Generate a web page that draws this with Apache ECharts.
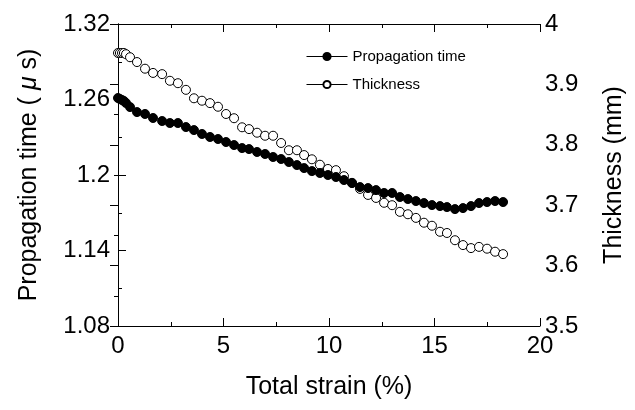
<!DOCTYPE html>
<html>
<head>
<meta charset="utf-8">
<script src="https://cdn.jsdelivr.net/npm/echarts@6/dist/echarts.min.js"></script>
<style>
  html, body { margin: 0; padding: 0; background: #fff; }
  #chart { width: 635px; height: 410px; }
</style>
</head>
<body>
<div id="chart"></div>
<script>
// total strain (%) of each measurement
const strain = [0, 0.09, 0.19, 0.28, 0.38, 0.57, 0.90, 1.28, 1.66, 2.09, 2.46, 2.84, 3.22, 3.60, 3.98,
  4.36, 4.74, 5.12, 5.50, 5.88, 6.21, 6.59, 6.97, 7.35, 7.73, 8.10, 8.48, 8.82, 9.19, 9.57, 9.95,
  10.33, 10.71, 11.09, 11.47, 11.85, 12.23, 12.61, 12.99, 13.36, 13.74, 14.12, 14.50, 14.88, 15.26,
  15.59, 15.97, 16.35, 16.73, 17.11, 17.49, 17.87, 18.25];

// propagation time (μs), left axis
const propTime = [1.2612, 1.2604, 1.2596, 1.2588, 1.2572, 1.2540, 1.2500, 1.2485, 1.2453, 1.2429,
  1.2413, 1.2413, 1.2381, 1.2357, 1.2326, 1.2302, 1.2286, 1.2262, 1.2238, 1.2214, 1.2206, 1.2183,
  1.2167, 1.2143, 1.2127, 1.2103, 1.2079, 1.2055, 1.2031, 1.2016, 1.2000, 1.1984, 1.1960, 1.1936,
  1.1904, 1.1896, 1.1880, 1.1857, 1.1857, 1.1825, 1.1809, 1.1793, 1.1777, 1.1761, 1.1753, 1.1745,
  1.1729, 1.1737, 1.1753, 1.1777, 1.1785, 1.1793, 1.1785];

// thickness (mm), right axis
const thickness = [3.952, 3.952, 3.952, 3.952, 3.950, 3.945, 3.937, 3.926, 3.919, 3.917, 3.906,
  3.902, 3.891, 3.877, 3.873, 3.869, 3.863, 3.851, 3.844, 3.829, 3.826, 3.820, 3.815, 3.815, 3.803,
  3.791, 3.791, 3.783, 3.776, 3.767, 3.760, 3.758, 3.748, 3.737, 3.727, 3.717, 3.712, 3.704, 3.700,
  3.689, 3.685, 3.679, 3.671, 3.666, 3.656, 3.654, 3.642, 3.634, 3.629, 3.631, 3.628, 3.623, 3.619];

const font = "'Liberation Sans', Arial, sans-serif";
const black = "#000";

const pair = (xs, ys) => xs.map((x, i) => [x, ys[i]]);

const chart = echarts.init(document.getElementById("chart"));

const lineAx = { show: true, lineStyle: { color: black, width: 1 } };
const tickAx = { show: true, inside: true, length: 8, lineStyle: { color: black, width: 1 } };
const minorAx = { show: true, splitNumber: 2, length: 4, lineStyle: { color: black, width: 1 } };
const tickFont = { fontFamily: font, fontSize: 24, color: black };
const nameFont = {
  fontFamily: font, fontSize: 25, color: black,
  rich: { i: { fontFamily: font, fontSize: 25, fontStyle: "italic", color: black } }
};

chart.setOption({
  animation: false,
  textStyle: { fontFamily: font, color: black },
  grid: { left: 118, right: 95, top: 24, bottom: 84, outerBoundsMode: "none" },
  legend: {
    orient: "vertical",
    left: 301,
    top: 44,
    itemWidth: 41,
    itemHeight: 9,
    itemGap: 13,
    textStyle: { fontFamily: font, fontSize: 15, color: black },
    lineStyle: { color: black, width: 1, opacity: 1 },
    data: ["Propagation time", "Thickness"]
  },
  xAxis: [
    {
      type: "value",
      min: 0,
      max: 20,
      interval: 5,
      name: "Total strain (%)",
      nameLocation: "middle",
      nameGap: 49,
      nameTextStyle: nameFont,
      axisLine: lineAx,
      axisTick: tickAx,
      minorTick: minorAx,
      splitLine: { show: false },
      axisLabel: Object.assign({ margin: 8 }, tickFont)
    },
    {
      type: "value",
      position: "top",
      min: 0,
      max: 20,
      interval: 5,
      axisLine: lineAx,
      axisTick: tickAx,
      minorTick: minorAx,
      splitLine: { show: false },
      axisLabel: { show: false }
    }
  ],
  yAxis: [
    {
      type: "value",
      min: 1.08,
      max: 1.32,
      interval: 0.06,
      name: "Propagation time ( {i|μ} s)",
      nameLocation: "middle",
      nameRotate: 90,
      nameGap: 76,
      nameTextStyle: nameFont,
      axisLine: lineAx,
      axisTick: tickAx,
      minorTick: minorAx,
      splitLine: { show: false },
      axisLabel: Object.assign({ margin: 8 }, tickFont)
    },
    {
      type: "value",
      position: "right",
      min: 3.5,
      max: 4,
      interval: 0.1,
      name: "Thickness (mm)",
      nameLocation: "middle",
      nameRotate: 90,
      nameGap: 62,
      nameTextStyle: nameFont,
      axisLine: lineAx,
      axisTick: tickAx,
      minorTick: minorAx,
      splitLine: { show: false },
      axisLabel: Object.assign({ margin: 5 }, tickFont)
    }
  ],
  series: [
    {
      name: "Thickness",
      type: "line",
      yAxisIndex: 1,
      z: 2,
      symbol: "circle",
      symbolSize: 9,
      lineStyle: { opacity: 0 },
      itemStyle: { color: "#fff", borderColor: black, borderWidth: 1 },
      data: pair(strain, thickness)
    },
    {
      name: "Propagation time",
      type: "line",
      yAxisIndex: 0,
      z: 3,
      symbol: "circle",
      symbolSize: 9,
      lineStyle: { opacity: 0 },
      itemStyle: { color: black, borderColor: black, borderWidth: 1 },
      data: pair(strain, propTime)
    }
  ]
});
</script>
</body>
</html>
